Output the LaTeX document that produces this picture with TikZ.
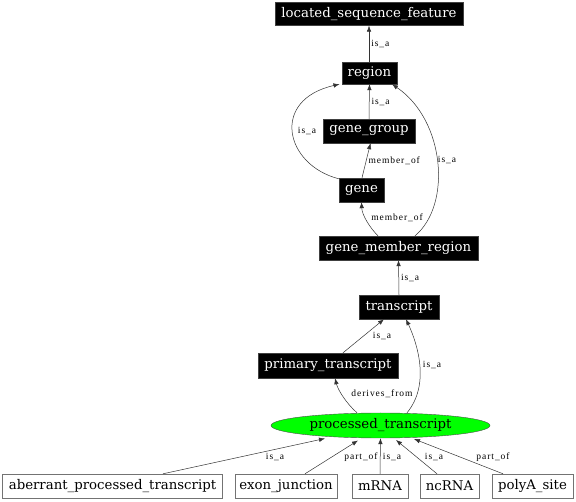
\documentclass[tikz,border=0pt]{standalone}
\usepackage{fontspec}
\setmainfont{DejaVu Serif}
\newfontfamily\labfont[LetterSpace=10]{Liberation Serif}
\usetikzlibrary{shapes.geometric,arrows.meta}
\tikzset{
  nodefont/.style={font=\fontsize{13.3}{15}\selectfont},
  blk/.style={draw=black!75,fill=black,text=white,inner sep=0pt,minimum height=24pt,nodefont},
  wht/.style={draw=black!55,fill=white,text=black,inner sep=0pt,minimum height=24pt,nodefont},
  ell/.style={ellipse,draw=black!70,fill=green,inner sep=0pt,minimum width=219pt,minimum height=25pt,nodefont},
  edge/.style={draw=black!80,line width=0.5pt,-{Latex[length=6pt,width=4.5pt]}},
  lab/.style={font=\labfont\fontsize{9.5}{10}\selectfont,inner sep=0pt,text=black}
}
\begin{document}
\begin{tikzpicture}[x=1pt,y=-1pt]
\useasboundingbox (0,0) rectangle (576,502);
\node[blk,minimum width=188pt,minimum height=23pt] (lsf) at (369,14) {located\_sequence\_feature};
\node[blk,minimum width=55pt,minimum height=22pt] (region) at (369.5,73) {region};
\node[blk,minimum width=92pt] (gg) at (369,131) {gene\_group};
\node[blk,minimum width=45pt] (gene) at (361.5,190) {gene};
\node[blk,minimum width=159pt] (gmr) at (398.5,248) {gene\_member\_region};
\node[blk,minimum width=80pt] (tr) at (399,307) {transcript};
\node[blk,minimum width=140pt,minimum height=25pt] (pt) at (328,365.5) {primary\_transcript};
\node[ell] (proc) at (380.5,425.5) {processed\_transcript};
\node[wht,minimum width=220pt] (apt) at (112.5,486) {aberrant\_processed\_transcript};
\node[wht,minimum width=102pt] (ej) at (286,486) {exon\_junction};
\node[wht,minimum width=56pt] (mrna) at (380,486) {mRNA};
\node[wht,minimum width=59pt] (nc) at (449.5,486) {ncRNA};
\node[wht,minimum width=81pt] (pa) at (532.5,486) {polyA\_site};

% edges
\draw[edge] (region.north -| lsf.south) -- (lsf.south) node[lab,pos=0.5,right=2pt] {is\_a};
\draw[edge] (gg.north) -- (region.south) node[lab,pos=0.5,right=2pt] {is\_a};
\draw[edge] ([xshift=0.5pt]gene.north) -- ([xshift=1.5pt]gg.south) node[lab,pos=0.5,right=2pt] {member\_of};
\draw[edge] ([yshift=-1pt]gene.north west) .. controls (285,165) and (270,100) .. ([xshift=-30pt]region.south);
\node[lab] at (307,131) {is\_a};
\draw[edge] ([xshift=-20.5pt]gmr.north) .. controls (370,228) and (362,215) .. (gene.south);
\node[lab] at (397,218) {member\_of};
\draw[edge] ([xshift=16.5pt]gmr.north) .. controls (452,205) and (445,120) .. ([xshift=22.5pt]region.south);
\node[lab] at (447,160) {is\_a};
\draw[edge] (tr.north) -- (gmr.south) node[lab,pos=0.5,right=2pt] {is\_a};
\draw[edge] ([xshift=15pt]pt.north) -- ([xshift=-15pt]tr.south);
\node[lab] at (382,336) {is\_a};
\draw[edge] ([xshift=26.5pt]proc.north) .. controls (430,385) and (418,345) .. ([xshift=7pt]tr.south);
\node[lab] at (432,365) {is\_a};
\draw[edge] ([xshift=-23.5pt]proc.north) .. controls (346,403) and (338,390) .. ([xshift=7pt]pt.south);
\node[lab] at (382,394) {derives\_from};
\draw[edge] ([xshift=50.5pt]apt.north) -- (325,438.5);
\node[lab] at (275,457) {is\_a};
\draw[edge] ([xshift=19pt]ej.north) -- (358,440.5);
\node[lab] at (361,457) {part\_of};
\draw[edge] (mrna.north) -- (proc.south);
\node[lab] at (392,457) {is\_a};
\draw[edge] ([xshift=-12.5pt]nc.north) -- (396,440);
\node[lab] at (434,457) {is\_a};
\draw[edge] ([xshift=-29.5pt]pa.north) -- (414,439);
\node[lab] at (493,457) {part\_of};
\end{tikzpicture}
\end{document}
